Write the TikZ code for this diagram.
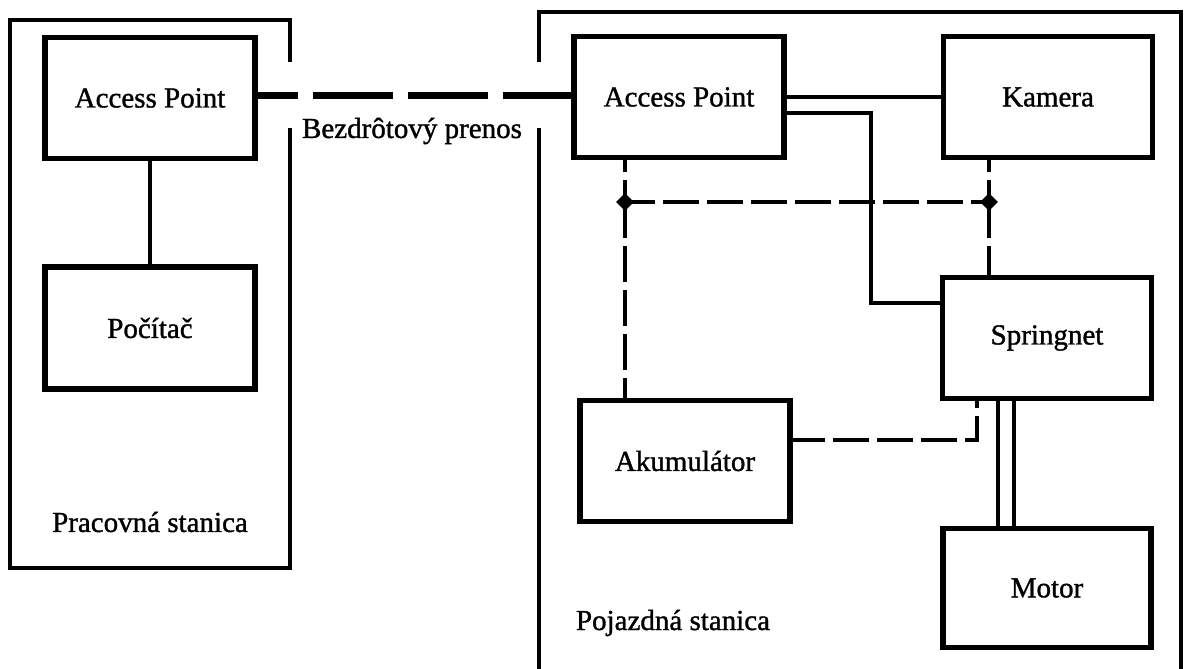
\documentclass[tikz,border=0pt]{standalone}
\usepackage{fontspec}
\setmainfont{Liberation Serif}
\newfontfamily\heavyserif{Liberation Serif}[FakeBold=1.2]
\usetikzlibrary{shapes.geometric}
\begin{document}
\begin{tikzpicture}[x=1pt,y=-1pt,
  box/.style={draw,line width=5.5pt,rectangle,inner sep=0pt,minimum width=210pt,minimum height=121pt,font=\heavyserif\fontsize{29}{34}\selectfont},
  lbl/.style={inner sep=0pt,font=\heavyserif\fontsize{29}{34}\selectfont},
  cont/.style={line width=3.5pt},
  wire/.style={line width=4pt},
  dsh/.style={line width=4pt,dash pattern=on 36pt off 8pt},
  wl/.style={line width=7pt,dash pattern=on 80pt off 15pt,dash phase=40pt},
  dia/.style={diamond,fill=black,inner sep=0pt,minimum width=18pt,minimum height=18pt}]
\useasboundingbox (0,0) rectangle (1186,669);
% containers
\draw[cont] (290,62) -- (290,20) -- (10,20) -- (10,568) -- (290,568) -- (290,128);
\draw[cont] (539,62) -- (539,12) -- (1181,12) -- (1181,672);
\draw[cont] (539,128) -- (539,672);
% boxes
\node[box] (apL) at (150,98) {Access Point};
\node[box,minimum height=122pt] (pc) at (150,328) {Počítač};
\node[box] (apR) at (679,97) {Access Point};
\node[box,minimum width=209pt] (kam) at (1048,97) {Kamera};
\node[box,minimum width=209pt] (spr) at (1047,338) {Springnet};
\node[box] (aku) at (685,461) {Akumulátor};
\node[box,minimum width=208pt,minimum height=119pt] (mot) at (1047,588) {Motor};
% labels
\node[lbl] (l1) at (150,522) {Pracovná stanica};
\node[lbl] (l2) at (673,623) {Pojazdná stanica};
\node[lbl] (l3) at (412,131) {Bezdrôtový prenos};
% connectors
\draw[wire] (apL.south) -- (pc.north);
\draw[wl] ([yshift=3pt]apL.east) -- ([yshift=3pt]apL.east -| apR.west);
\draw[wire] (apR.east) -- (kam.west);
\coordinate (b1) at (871,113);
\coordinate (b2) at (871,303);
\draw[wire] (apR.east |- b1) -- (b1) -- (b2) -- (spr.west |- b2);
\coordinate (j1) at (625,202);
\coordinate (j2) at (989,202);
\draw[dsh,dash phase=24pt] (apR.south -| j1) -- (j1);
\draw[dsh] (j1) -- (aku.north -| j1);
\draw[dsh,dash phase=6pt] (j1) -- (j2);
\draw[dsh,dash phase=24pt] (kam.south -| j2) -- (j2);
\draw[dsh] (j2) -- (spr.north -| j2);
\node[dia] (d1) at (j1) {};
\node[dia] (d2) at (j2) {};
\coordinate (c3) at (977,440);
\draw[dsh,dash phase=4pt] (aku.east |- c3) -- (c3) -- (spr.south -| c3);
\draw[wire] ([xshift=-49pt]spr.south) -- ([xshift=-49pt]mot.north);
\draw[wire] ([xshift=-33pt]spr.south) -- ([xshift=-33pt]mot.north);
\end{tikzpicture}
\end{document}
